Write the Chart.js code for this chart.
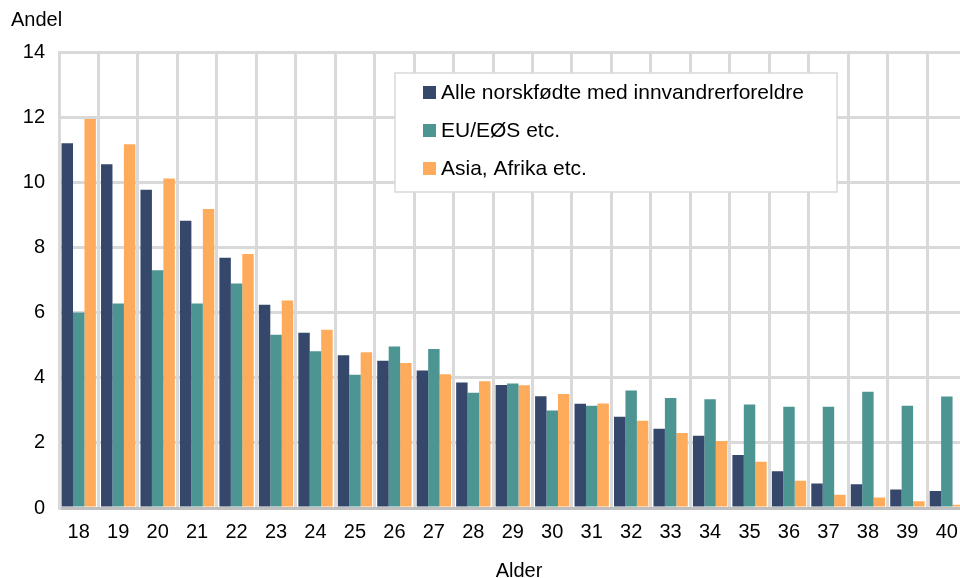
<!DOCTYPE html>
<html>
<head>
<meta charset="utf-8">
<script src="https://cdn.jsdelivr.net/npm/chart.js@4"></script>
<style>
  body { margin: 0; background: #fff; overflow: hidden; }
  #wrap { position: relative; width: 970px; height: 578px; }
</style>
</head>
<body>
<div id="wrap"><canvas id="myChart"></canvas></div>
<script>
// data
const ages = ['18','19','20','21','22','23','24','25','26','27','28','29','30','31','32','33','34','35','36','37','38','39','40'];
const alle = [11.2, 10.55, 9.77, 8.82, 7.68, 6.24, 5.38, 4.69, 4.52, 4.22, 3.85, 3.78, 3.43, 3.2, 2.8, 2.43, 2.22, 1.63, 1.13, 0.75, 0.73, 0.57, 0.52];
const euEos = [6.0, 6.28, 7.3, 6.28, 6.89, 5.32, 4.81, 4.09, 4.96, 4.88, 3.54, 3.82, 2.99, 3.14, 3.61, 3.38, 3.34, 3.18, 3.11, 3.11, 3.57, 3.14, 3.42];
const asiaAfrika = [11.94, 11.17, 10.12, 9.18, 7.8, 6.37, 5.47, 4.78, 4.45, 4.11, 3.89, 3.77, 3.5, 3.21, 2.68, 2.3, 2.06, 1.42, 0.84, 0.41, 0.32, 0.21, 0.1];
const seriesNames = ['Alle norskfødte med innvandrerforeldre', 'EU/EØS etc.', 'Asia, Afrika etc.'];
const colors = ['#35486b', '#4d9592', '#ffab5c'];

const font = "'Liberation Sans', Arial, sans-serif";

//legend box inside the plot + "Andel" / "Alder" titles
const boxLegend = {
    id: 'boxLegend',
    afterDraw(chart) {
        const ctx = chart.ctx;
        ctx.save();
        ctx.font = '20px ' + font;
        ctx.fillStyle = '#000';
        ctx.textBaseline = 'middle';
        ctx.fillText('Andel', 11, 20);
        ctx.textAlign = 'center';
        ctx.fillText('Alder', 519, 571);
        ctx.textAlign = 'left';

        ctx.fillStyle = '#fff';
        ctx.fillRect(395, 73, 442, 119);
        ctx.strokeStyle = '#d9d9d9';
        ctx.lineWidth = 1.5;
        ctx.strokeRect(395, 73, 442, 119);
        ctx.font = '21px ' + font;
        chart.data.datasets.forEach((ds, i) => {
            const y = 93 + i * 38;
            ctx.fillStyle = ds.backgroundColor;
            ctx.fillRect(423, y - 7, 13, 13);
            ctx.fillStyle = '#000';
            ctx.fillText(ds.label, 441, y);
        });
        ctx.restore();
    }
};

var ctx = document.getElementById('myChart').getContext('2d');
var myChart = new Chart(ctx, {
    type: 'bar',
    data: {
        labels: ages,
        datasets: [
            { label: seriesNames[0], data: alle, backgroundColor: colors[0] },
            { label: seriesNames[1], data: euEos, backgroundColor: colors[1] },
            { label: seriesNames[2], data: asiaAfrika, backgroundColor: colors[2] }
        ]
    },
    options: {
        responsive: true,
        maintainAspectRatio: false,
        animation: false,
        layout: { padding: { top: 52, right: 2, left: 0, bottom: 22 } },
        datasets: { bar: { barPercentage: 1.0, categoryPercentage: 0.87 } },
        plugins: {
            legend: { display: false },
            tooltip: { enabled: false }
        },
        scales: {
            x: {
                grid: { color: '#d9d9d9', lineWidth: 3, offset: true, drawTicks: false },
                border: { color: '#bfbfbf', width: 3 },
                ticks: { color: '#000', font: { family: font, size: 20 }, padding: 12, maxRotation: 0 }
            },
            y: {
                min: 0,
                max: 14,
                afterFit: (scale) => { scale.width = 59; },
                grid: { color: '#d9d9d9', lineWidth: 3, drawTicks: false },
                border: { color: '#d9d9d9', width: 3 },
                ticks: { stepSize: 2, color: '#000', font: { family: font, size: 20 }, padding: 14 }
            }
        }
    },
    plugins: [boxLegend]
});
</script>
</body>
</html>
